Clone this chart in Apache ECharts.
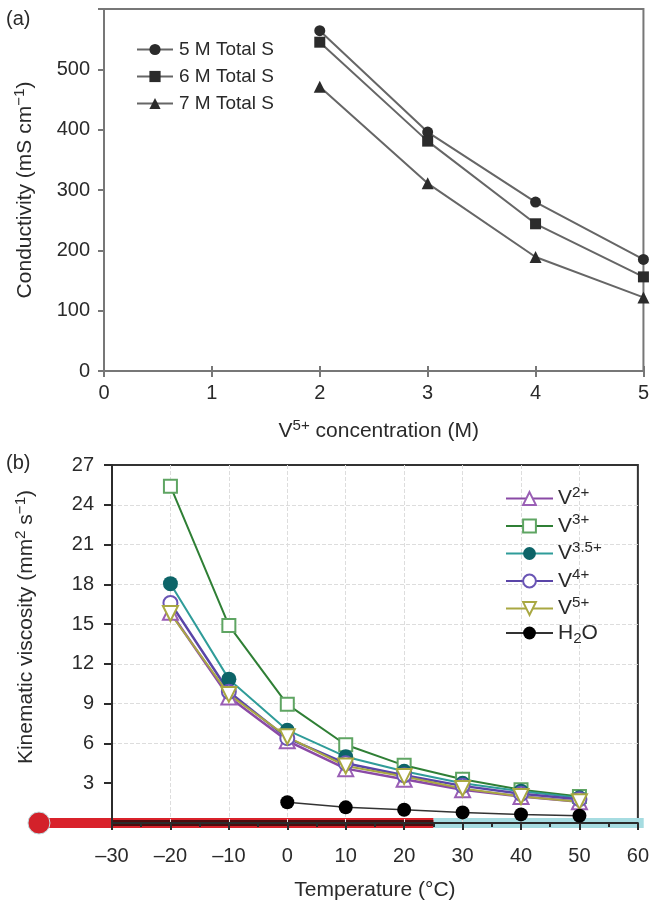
<!DOCTYPE html>
<html><head><meta charset="utf-8">
<style>html,body{margin:0;padding:0;background:#fff}#c{width:652px;height:904px}</style>
<script src="https://cdn.jsdelivr.net/npm/echarts@6/dist/echarts.min.js"></script>
</head><body><div id="c"></div>
<script>
const concentrations = [2, 3, 4, 5];
const totalS5 = [564, 396, 280, 185];
const totalS6 = [545, 381, 244, 156];
const totalS7 = [471, 311, 189, 122];

const temps = [-20, -10, 0, 10, 20, 30, 40, 50];
const v2 = [15.9, 9.5, 6.2, 4.1, 3.3, 2.5, 2.0, 1.6];
const v3 = [25.4, 14.9, 8.95, 5.9, 4.35, 3.3, 2.5, 2.0];
const v35 = [18.05, 10.85, 7.0, 5.0, 3.9, 3.0, 2.4, 1.9];
const v4 = [16.6, 9.9, 6.4, 4.5, 3.6, 2.8, 2.2, 1.8];
const v5 = [15.8, 9.7, 6.5, 4.3, 3.5, 2.6, 2.0, 1.6];
const waterTemps = [0, 10, 20, 30, 40, 50];
const water = [1.56, 1.18, 1.0, 0.8, 0.65, 0.55];
const viscosityTicks = [3, 6, 9, 12, 15, 18, 21, 24, 27];

const thermoHot = [-42.5, 25];
const thermoCold = [25, 61];
const thermoCore = [-30, 25];

const FONT = '"Liberation Sans", Arial, sans-serif';
const INK = '#2a2a2a';
const zip = (xs, ys) => xs.map((x, i) => [x, ys[i]]);

const rich = (size) => ({
  n: {fontFamily: FONT, fontSize: size, color: INK, lineHeight: size + 6},
  s: {fontFamily: FONT, fontSize: size * 0.72, color: INK, lineHeight: size + 6, verticalAlign: 'top'},
  b: {fontFamily: FONT, fontSize: size * 0.72, color: INK, lineHeight: size + 6, verticalAlign: 'bottom'}
});

const seriesA = (name, data, symbol, size) => ({
  name, type: 'line', xAxisIndex: 0, yAxisIndex: 0, data: zip(concentrations, data),
  symbol, symbolSize: size, clip: false, z: 3,
  lineStyle: {color: '#666', width: 2},
  itemStyle: {color: '#2b2b2b', borderColor: '#2b2b2b', borderWidth: 0}
});
const seriesB = (name, xs, data, symbol, size, line, fill, stroke, rot, w) => ({
  name, type: 'line', xAxisIndex: 2, yAxisIndex: 1, data: zip(xs, data),
  symbol, symbolSize: size, symbolRotate: rot || 0, z: 3, clip: false,
  lineStyle: {color: line, width: w || 2},
  itemStyle: {color: fill, borderColor: stroke, borderWidth: fill === stroke ? 0 : 2, opacity: 1}
});
const band = (name, range, color, width, z) => ({
  name, type: 'custom', xAxisIndex: 2, yAxisIndex: 1, silent: true, clip: false, z,
  data: [[range[0], range[1], 0]],
  encode: {x: [0, 1], y: 2},
  renderItem: (params, api) => {
    const a = api.coord([api.value(0), 0]);
    const b = api.coord([api.value(1), 0]);
    return {type: 'rect', shape: {x: a[0], y: a[1] - width / 2, width: b[0] - a[0], height: width},
      style: {fill: color}};
  }
});

const labelsLegendB = {'V2+': '2+', 'V3+': '3+', 'V3.5+': '3.5+', 'V4+': '4+', 'V5+': '5+'};

const option = {
  animation: false,
  backgroundColor: '#fff',
  textStyle: {fontFamily: FONT, color: INK},
  title: [
    {text: '(a)', left: 1, top: 4, textStyle: {fontFamily: FONT, fontSize: 20, fontWeight: 'normal', color: INK}},
    {text: '(b)', left: 1, top: 448, textStyle: {fontFamily: FONT, fontSize: 20, fontWeight: 'normal', color: INK}}
  ],
  grid: [
    {left: 104, right: 5, top: 9, height: 362, show: true, borderColor: '#777', borderWidth: 2, containLabel: false},
    {left: 112, right: 9, top: 465, height: 358, show: true, borderColor: '#333', borderWidth: 2, containLabel: false}
  ],
  legend: [
    {data: ['5 M Total S', '6 M Total S', '7 M Total S'], orient: 'vertical', left: 131, top: 35,
      itemWidth: 36, itemHeight: 14, itemGap: 8,
      textStyle: {fontFamily: FONT, fontSize: 19, color: INK, padding: [0, 0, 0, 1]}},
    {data: ['V2+', 'V3+', 'V3.5+', 'V4+', 'V5+', 'H2O'], orient: 'vertical', left: 500, top: 480,
      itemWidth: 47, itemHeight: 16, itemGap: 3.5,
      formatter: n => n === 'H2O' ? '{n|H}{b|2}{n|O}' : '{n|V}{s|' + labelsLegendB[n] + '}',
      textStyle: {rich: rich(21), padding: [0, 0, 0, 0]}}
  ],
  xAxis: [
    {gridIndex: 0, type: 'value', min: 0, max: 5, interval: 1, position: 'bottom', z: 2,
      name: '{n|V}{s|5+}{n| concentration (M)}', nameLocation: 'middle', nameGap: 47,
      nameTextStyle: {rich: rich(21), padding: [0, 0, 0, 10]},
      axisLine: {onZero: false, lineStyle: {color: '#777', width: 2}},
      axisTick: {length: 6, lineStyle: {color: '#777', width: 2}},
      axisLabel: {fontFamily: FONT, fontSize: 20, color: INK, margin: 12, hideOverlap: false},
      splitLine: {show: false}},
    {gridIndex: 0, type: 'value', min: 0, max: 5, interval: 1, position: 'bottom', z: 2,
      axisLine: {show: false}, axisLabel: {show: false}, splitLine: {show: false},
      axisTick: {inside: true, length: 5, lineStyle: {color: '#777', width: 2}}},
    {gridIndex: 1, type: 'value', min: -30, max: 60, interval: 10, position: 'bottom', z: 2,
      name: 'Temperature (°C)', nameLocation: 'middle', nameGap: 57,
      nameTextStyle: {fontFamily: FONT, fontSize: 21, color: INK},
      axisLine: {onZero: false, lineStyle: {color: '#2b2b2b', width: 2}},
      axisTick: {length: 7, lineStyle: {color: '#2b2b2b', width: 2}},
      minorTick: {show: true, splitNumber: 2, length: 4, lineStyle: {color: '#2b2b2b', width: 2}},
      axisLabel: {fontFamily: FONT, fontSize: 20, color: INK, margin: 23, hideOverlap: false,
        formatter: v => v < 0 ? '–' + Math.abs(v) : String(v)},
      splitLine: {show: true, showMinLine: false, showMaxLine: false,
        lineStyle: {color: '#ddd', type: 'dashed', width: 1}}}
  ],
  yAxis: [
    {gridIndex: 0, type: 'value', min: 0, max: 600, interval: 100, z: 2,
      name: '{n|Conductivity (mS cm}{s|−1}{n|)}', nameLocation: 'middle', nameGap: 65,
      nameTextStyle: {rich: rich(21)},
      axisLine: {onZero: false, lineStyle: {color: '#777', width: 2}},
      axisTick: {length: 6, lineStyle: {color: '#777', width: 2}},
      axisLabel: {fontFamily: FONT, fontSize: 20, color: INK, margin: 14,
        formatter: v => v === 600 ? '' : String(v)},
      splitLine: {show: false}},
    {gridIndex: 1, type: 'value', min: 0, max: 27, interval: 3, z: 2,
      name: '{n|Kinematic viscosity (mm}{s|2}{n| s}{s|−1}{n|)}', nameLocation: 'middle', nameGap: 72,
      nameTextStyle: {rich: rich(21), padding: [0, 0, 0, 34]},
      axisLine: {onZero: false, lineStyle: {color: '#2b2b2b', width: 2}},
      axisTick: {length: 8, customValues: viscosityTicks, lineStyle: {color: '#2b2b2b', width: 2}},
      axisLabel: {fontFamily: FONT, fontSize: 20, color: INK, margin: 18,
        formatter: v => v === 0 ? '' : String(v)},
      splitLine: {show: true, showMinLine: false, showMaxLine: false,
        lineStyle: {color: '#ddd', type: 'dashed', width: 1}}}
  ],
  series: [
    seriesA('5 M Total S', totalS5, 'circle', 11),
    seriesA('6 M Total S', totalS6, 'rect', 11),
    seriesA('7 M Total S', totalS7, 'triangle', 12),
    band('cold band', thermoCold, '#a6dce1', 10, 1),
    band('hot band', thermoHot, '#d9222b', 10, 1.1),
    band('hot core', thermoCore, '#4f0a0c', 6, 1.5),
    {name: 'bulb', type: 'scatter', xAxisIndex: 2, yAxisIndex: 1, data: [[thermoHot[0], 0]],
      symbolSize: 22, clip: false, silent: true, z: 1.2,
      itemStyle: {color: '#d3212a', opacity: 1, borderColor: '#bfe0e3', borderWidth: 1}},
    seriesB('V2+', temps, v2, 'triangle', 15, '#8a4aa6', '#fff', '#9a5fb5', 0, 2.5),
    seriesB('V3+', temps, v3, 'rect', 13, '#2f7f35', '#fff', '#5fa563', 0, 2),
    seriesB('V3.5+', temps, v35, 'circle', 15, '#2f9c99', '#0d6468', '#0d6468', 0, 2),
    seriesB('V4+', temps, v4, 'circle', 14, '#5a45a8', '#fff', '#6a55b5', 0, 2.5),
    seriesB('V5+', temps, v5, 'triangle', 15, '#a9a842', '#fff', '#a9a842', 180, 2),
    seriesB('H2O', waterTemps, water, 'circle', 14, '#333', '#000', '#000', 0, 1.5)
  ]
};
const chart = echarts.init(document.getElementById('c'), null, {renderer: 'canvas'});
chart.setOption(option);
</script></body></html>
